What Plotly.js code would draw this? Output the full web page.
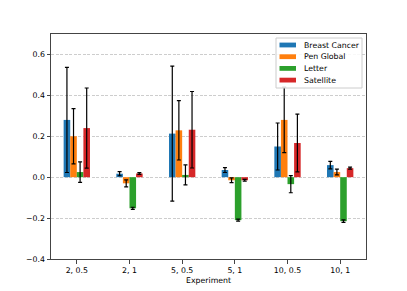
<!DOCTYPE html>
<html><head><meta charset="utf-8">
<script src="https://cdn.plot.ly/plotly-3.0.1.min.js"></script>
<style>html,body{margin:0;padding:0;background:#fff;}#chart{width:407px;height:291px;}</style>
</head><body><div id="chart"></div>
<script>
const categories = ["2, 0.5", "2, 1", "5, 0.5", "5, 1", "10, 0.5", "10, 1"];
const seriesNames = ["Breast Cancer", "Pen Global", "Letter", "Satellite"];
const breastCancer = [0.28, 0.017, 0.213, 0.035, 0.15, 0.059];
const breastCancerErr = [0.257, 0.01, 0.33, 0.012, 0.115, 0.018];
const penGlobal = [0.20, -0.03, 0.229, -0.015, 0.28, 0.025];
const penGlobalErr = [0.135, 0.017, 0.145, 0.012, 0.16, 0.014];
const letter = [0.025, -0.152, 0.011, -0.21, -0.034, -0.215];
const letterErr = [0.05, 0.005, 0.049, 0.005, 0.042, 0.006];
const satellite = [0.24, 0.018, 0.232, -0.015, 0.167, 0.044];
const satelliteErr = [0.196, 0.004, 0.187, 0.004, 0.141, 0.005];
const colors = ["#1f77b4", "#ff7f0e", "#2ca02c", "#d62728"];
const yTickVals = [-0.4, -0.2, 0.0, 0.2, 0.4, 0.6];
const yTickText = ["\u22120.4", "\u22120.2", "0.0", "0.2", "0.4", "0.6"];

const W = 407, H = 291, M = {l: 51, r: 41, t: 34, b: 32};
const pw = W - M.l - M.r, ph = H - M.t - M.b;
const px = x => (x - M.l) / pw;
const py = y => (H - M.b - y) / ph;

const vals = [breastCancer, penGlobal, letter, satellite];
const errs = [breastCancerErr, penGlobalErr, letterErr, satelliteErr];
const font = {family: "DejaVu Sans", size: 7.8, color: "#000"};
const traces = seriesNames.map((n, i) => ({
  type: "bar", name: n, x: categories, y: vals[i],
  marker: {color: colors[i], line: {width: 0}},
  error_y: {type: "data", array: errs[i], visible: true, color: "#000", thickness: 1.2, width: 2}
}));

// legend drawn as shapes + annotations
const shapes = [{type: "rect", xref: "paper", yref: "paper",
  x0: px(276), x1: px(362), y0: py(88), y1: py(38),
  fillcolor: "rgba(255,255,255,0.85)", line: {color: "#cccccc", width: 1}, layer: "above"}];
const annotations = [];
seriesNames.forEach((n, i) => {
  const cy = 45 + i * 11.7;
  shapes.push({type: "rect", xref: "paper", yref: "paper",
    x0: px(279.5), x1: px(296), y0: py(cy + 2.4), y1: py(cy - 2.4),
    fillcolor: colors[i], line: {width: 0}, layer: "above"});
  annotations.push({xref: "paper", yref: "paper", x: px(301.5), y: py(cy),
    xanchor: "left", yanchor: "middle", text: n, showarrow: false,
    font: font});
});

const layout = {
  width: W, height: H, margin: M,
  paper_bgcolor: "#fff", plot_bgcolor: "#fff",
  font: font,
  barmode: "group", bargap: 0.5, bargroupgap: 0,
  showlegend: false,
  shapes: shapes, annotations: annotations,
  xaxis: {type: "category", range: [-0.49, 5.49], showgrid: false, zeroline: false,
    showline: true, mirror: true, linecolor: "#444", linewidth: 1,
    ticks: "outside", ticklen: 3.5, tickcolor: "#444", tickfont: font,
    title: {text: "Experiment", font: font, standoff: 3}},
  yaxis: {range: [-0.4, 0.7], tickvals: yTickVals, ticktext: yTickText,
    showgrid: true, gridcolor: "#c0c0c0", griddash: "3px,1.5px", gridwidth: 0.8,
    zeroline: false, showline: true, mirror: true, linecolor: "#444", linewidth: 1,
    ticks: "outside", ticklen: 3.5, tickcolor: "#444", tickfont: font}
};
Plotly.newPlot("chart", traces, layout, {displayModeBar: false, staticPlot: true});
</script></body></html>
